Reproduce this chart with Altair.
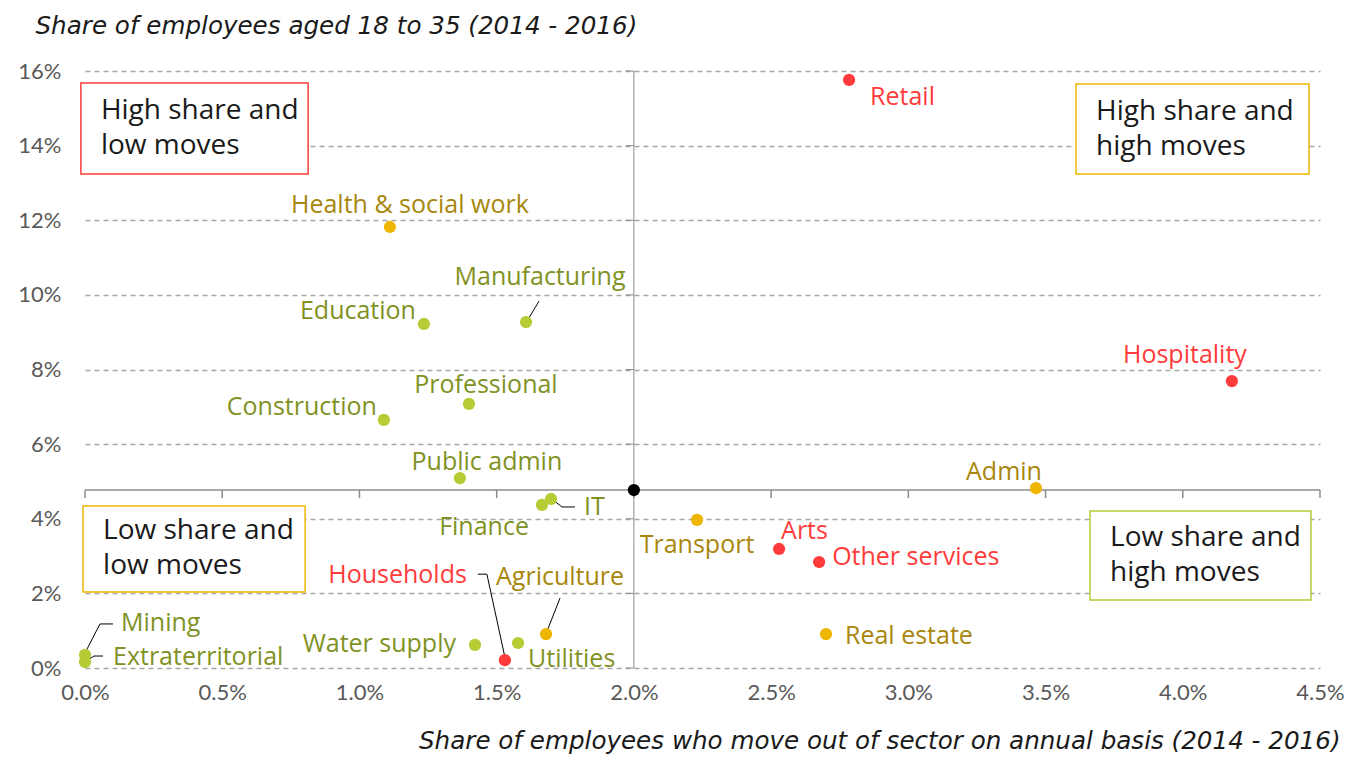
import altair as alt
import pandas as pd

# ---------------- data ----------------
sectors = ["Retail", "Hospitality", "Admin", "Health & social work", "Manufacturing",
           "Education", "Professional", "Construction", "Public admin", "IT", "Finance",
           "Transport", "Arts", "Other services", "Real estate", "Agriculture",
           "Utilities", "Water supply", "Households", "Mining", "Extraterritorial"]
moves = [2.784, 4.179, 3.465, 1.111, 1.607, 1.235, 1.399, 1.089, 1.366, 1.698, 1.665,
         2.230, 2.529, 2.675, 2.700, 1.680, 1.578, 1.421, 1.530, 0.0, 0.0]
young_share = [15.76, 7.69, 4.82, 11.82, 9.27, 9.22, 7.08, 6.65, 5.09, 4.53, 4.37,
               3.97, 3.19, 2.84, 0.91, 0.91, 0.67, 0.62, 0.21, 0.35, 0.16]
groups = ["red", "red", "gold", "gold", "green", "green", "green", "green", "green", "green", "green",
          "gold", "red", "red", "gold", "gold", "green", "green", "red", "green", "green"]
avg_moves = [2.0]
avg_share = [4.77]

x_ticks = [0.0, 0.5, 1.0, 1.5, 2.0, 2.5, 3.0, 3.5, 4.0, 4.5]
y_ticks = [0, 2, 4, 6, 8, 10, 12, 14, 16]

quad_text = ["High share and\nlow moves", "High share and\nhigh moves",
             "Low share and\nlow moves", "Low share and\nhigh moves"]

# ---------------- layout config ----------------
W, H = 1235, 597
XMAX, YMAX = 4.5, 16
PX = W / XMAX
PY = H / YMAX

FONT = "Open Sans"
TITLE_FONT = "DejaVu Sans"
TICK_FONT = "Lato"
point_cols = {"red": "#FF3B3B", "gold": "#EEB600", "green": "#B6CB34"}
label_cols = {"red": "#FF3B3B", "gold": "#A8860C", "green": "#7F9223"}

# label anchor offsets in pixels (dx, dy) and alignment
label_place = {
    "Retail": (21, 17, "left"),
    "Hospitality": (-47, -26, "center"),
    "Admin": (6, -16, "right"),
    "Health & social work": (20, -22, "center"),
    "Manufacturing": (14, -45, "center"),
    "Education": (-8, -13, "right"),
    "Professional": (17, -19, "center"),
    "Construction": (-7, -13, "right"),
    "Public admin": (27, -16, "center"),
    "IT": (33, 8, "left"),
    "Finance": (-13, 22, "right"),
    "Transport": (0, 25, "center"),
    "Arts": (2, -18, "left"),
    "Other services": (13, -5, "left"),
    "Real estate": (19, 2, "left"),
    "Agriculture": (-50, -57, "left"),
    "Utilities": (10, 16, "left"),
    "Water supply": (-19, -1, "right"),
    "Households": (-38, -85, "right"),
    "Mining": (36, -32, "left"),
    "Extraterritorial": (28, -5, "left"),
}

# leader lines: pixel offsets relative to the point
leaders = {
    "Manufacturing": [(1, -1), (13, -21)],
    "IT": [(2, 1), (11, 8), (24, 8)],
    "Households": [(-27, -86), (-18, -86), (0, -3)],
    "Agriculture": [(14, -36), (1, -3)],
    "Mining": [(28, -31), (15, -31), (0, -2)],
    "Extraterritorial": [(18, -6), (9, -6), (1, -1)],
}

# quadrant boxes (data units) and border colours
boxes = [
    (-0.015, 0.813, 13.24, 15.68, "#FF3B3B"),
    (3.611, 4.460, 13.24, 15.65, "#EEB600"),
    (-0.007, 0.802, 2.04, 4.34, "#EEB600"),
    (3.662, 4.467, 1.82, 4.21, "#B6CB34"),
]
BOX_LH = 35

# ---------------- tables ----------------
df = pd.DataFrame({"sector": sectors, "moves": moves, "share": young_share, "grp": groups})
df["pcol"] = df["grp"].map(point_cols)
df["lcol"] = df["grp"].map(label_cols)
df["lx"] = [m + label_place[s][0] / PX for s, m in zip(sectors, moves)]
df["ly"] = [v - label_place[s][1] / PY for s, v in zip(sectors, young_share)]
df["align"] = [label_place[s][2] for s in sectors]

lead_rows = []
for s, pts in leaders.items():
    i = sectors.index(s)
    for k, (dx, dy) in enumerate(pts):
        lead_rows.append({"sector": s, "k": k,
                          "x": moves[i] + dx / PX, "y": young_share[i] - dy / PY})
lead_df = pd.DataFrame(lead_rows)

avg_df = pd.DataFrame({"x": avg_moves, "y": avg_share})
box_df = pd.DataFrame([{"x0": b[0], "x1": b[1], "y0": b[2], "y1": b[3], "col": b[4],
                        "tx": b[0] + 20 / PX,
                        "ty": (b[2] + b[3]) / 2 + (BOX_LH / 2) / PY, "txt": t}
                       for b, t in zip(boxes, quad_text)])
xt_df = pd.DataFrame({"x": x_ticks, "y": avg_share[0], "y2": avg_share[0] - 8 / PY})
yt_df = pd.DataFrame({"y": y_ticks, "x": avg_moves[0] - 8 / PX, "x2": avg_moves[0]})
hline_df = pd.DataFrame({"x": [0.0], "x2": [XMAX], "y": avg_share})
vline_df = pd.DataFrame({"x": avg_moves, "y": [0.0], "y2": [float(YMAX)]})

xs = alt.Scale(domain=[0, XMAX], nice=False, zero=False)
ys = alt.Scale(domain=[0, YMAX], nice=False, zero=False)

x_axis = alt.Axis(values=x_ticks, labelExpr="format(datum.value, '.1f') + '%'",
                  domain=False, ticks=False, grid=False, labelPadding=14, labelFlush=False,
                  labelFontSize=22, labelColor="#595959", labelFont=TICK_FONT,
                  title="Share of employees who move out of sector on annual basis (2014 - 2016)",
                  titleFont=TITLE_FONT, titleFontSize=24.6, titleFontStyle="italic",
                  titleFontWeight="normal", titleColor="#1a1a1a",
                  titleAlign="right", titleAnchor="end", titleX=W + 20, titleY=80,
                  titleBaseline="alphabetic")
y_axis = alt.Axis(values=y_ticks, labelExpr="datum.value + '%'",
                  domain=False, ticks=False, grid=True, gridDash=[5, 4], labelFlush=False,
                  gridColor="#A6A6A6", gridWidth=1.5, labelPadding=24,
                  labelFontSize=22, labelColor="#595959", labelFont=TICK_FONT,
                  title="Share of employees aged 18 to 35 (2014 - 2016)",
                  titleFont=TITLE_FONT, titleFontSize=24.6, titleFontStyle="italic",
                  titleFontWeight="normal", titleColor="#1a1a1a",
                  titleAngle=0, titleAlign="left", titleX=-50, titleY=-38,
                  titleBaseline="alphabetic")

base_axes = alt.Chart(df).mark_point(opacity=0).encode(
    x=alt.X("moves:Q", scale=xs, axis=x_axis),
    y=alt.Y("share:Q", scale=ys, axis=y_axis),
)

vline = alt.Chart(vline_df).mark_rule(color="#8C8C8C", strokeWidth=1).encode(
    x=alt.X("x:Q", scale=xs), y=alt.Y("y:Q", scale=ys), y2="y2:Q")
hline = alt.Chart(hline_df).mark_rule(color="#8C8C8C", strokeWidth=1.5).encode(
    x=alt.X("x:Q", scale=xs), x2="x2:Q", y=alt.Y("y:Q", scale=ys))
xticks = alt.Chart(xt_df).mark_rule(color="#8C8C8C", strokeWidth=1.5).encode(
    x=alt.X("x:Q", scale=xs), y=alt.Y("y:Q", scale=ys), y2="y2:Q")
yticks = alt.Chart(yt_df).mark_rule(color="#8C8C8C", strokeWidth=1).encode(
    x=alt.X("x:Q", scale=xs), x2="x2:Q", y=alt.Y("y:Q", scale=ys))

box_rect = alt.Chart(box_df).mark_rect(fill="white", strokeWidth=1.5).encode(
    x=alt.X("x0:Q", scale=xs), x2="x1:Q",
    y=alt.Y("y0:Q", scale=ys), y2="y1:Q",
    stroke=alt.Stroke("col:N", scale=None))
box_txt = alt.Chart(box_df).mark_text(align="left", baseline="middle", font=FONT,
                                      fontSize=28, lineBreak="\n", lineHeight=BOX_LH,
                                      color="#1a1a1a").encode(
    x=alt.X("tx:Q", scale=xs), y=alt.Y("ty:Q", scale=ys), text="txt:N")

lead = alt.Chart(lead_df).mark_line(color="#000000", strokeWidth=1).encode(
    x=alt.X("x:Q", scale=xs), y=alt.Y("y:Q", scale=ys),
    detail="sector:N", order="k:Q")

pts = alt.Chart(df).mark_circle(size=150, opacity=1).encode(
    x=alt.X("moves:Q", scale=xs), y=alt.Y("share:Q", scale=ys),
    color=alt.Color("pcol:N", scale=None))
avg_pt = alt.Chart(avg_df).mark_circle(size=150, opacity=1, color="#000000").encode(
    x=alt.X("x:Q", scale=xs), y=alt.Y("y:Q", scale=ys))

label_layers = []
for al in ["left", "center", "right"]:
    label_layers.append(
        alt.Chart(df[df["align"] == al]).mark_text(align=al, baseline="middle",
                                                  font=FONT, fontSize=25).encode(
            x=alt.X("lx:Q", scale=xs), y=alt.Y("ly:Q", scale=ys),
            text="sector:N", color=alt.Color("lcol:N", scale=None))
    )

chart = alt.layer(base_axes, vline, hline, xticks, yticks, box_rect, box_txt, lead,
                  pts, avg_pt, *label_layers).properties(
    width=W, height=H,
    autosize=alt.AutoSizeParams(type="none"),
    padding={"left": 77, "top": 63, "right": 35, "bottom": 87},
    background="white",
).configure_view(stroke=None)

chart.save("out.html", embed_options={"renderer": "svg", "actions": False})
